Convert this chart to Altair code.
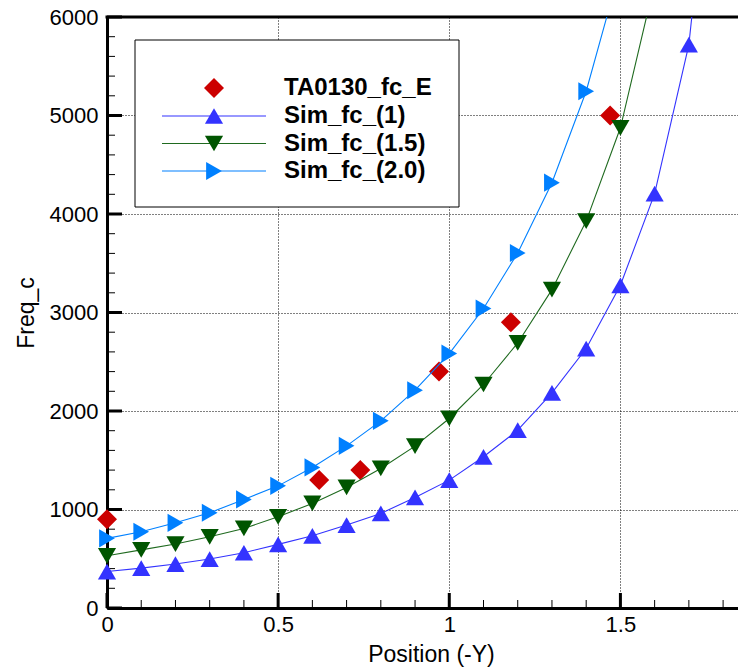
import altair as alt
import pandas as pd

# ---------------- data ----------------
sim_x = [0.0, 0.1, 0.2, 0.3, 0.4, 0.5, 0.6, 0.7, 0.8, 0.9,
         1.0, 1.1, 1.2, 1.3, 1.4, 1.5, 1.6, 1.7, 1.8]
sim_1 = [370, 405, 446, 497, 561, 646, 733, 842, 960, 1123,
         1298, 1535, 1805, 2184, 2634, 3276, 4206, 5720, 9000]
sim_15 = [530, 590, 649, 723, 808, 926, 1062, 1224, 1417, 1643,
          1924, 2269, 2691, 3232, 3928, 4875, 6350]
sim_20 = [707, 774, 865, 967, 1102, 1240, 1427, 1646, 1900, 2211,
          2583, 3040, 3604, 4318, 5246, 6500]
exp_x = [0.0, 0.62, 0.74, 0.97, 1.18, 1.47]
exp_y = [900, 1300, 1400, 2400, 2900, 5000]

series_names = ["TA0130_fc_E", "Sim_fc_(1)", "Sim_fc_(1.5)", "Sim_fc_(2.0)"]
y_major = [0, 1000, 2000, 3000, 4000, 5000, 6000]
y_minor = [v for v in range(0, 6001, 200) if v % 1000 != 0]
x_major = [0.0, 0.5, 1.0, 1.5]
x_minor = [0.1, 0.2, 0.3, 0.4, 0.6, 0.7, 0.8, 0.9, 1.1, 1.2, 1.3, 1.4, 1.6, 1.7, 1.8]

# ---------------- styling ----------------
W, H = 638, 591
FONT = "Liberation Sans"
RED, BLUE, GREEN, LBLUE = "#cc0000", "#3333ff", "#005500", "#0080ff"
GREEN_LINE = "#1f6a1f"

xs = alt.Scale(domain=[0, 1.864], nice=False, zero=False)
ys = alt.Scale(domain=[0, 6000], nice=False, zero=False)

x_axis = alt.Axis(values=x_major, format="~g", grid=True, gridDash=[1, 2],
                  gridColor="black", gridWidth=1, ticks=False, tickSize=0,
                  domainWidth=3, domainColor="black", labelFont=FONT,
                  labelFontSize=22, labelColor="black", labelPadding=6,
                  labelFlush=False, title="Position (-Y)", titleFont=FONT,
                  titleFontSize=23, titleFontWeight="normal", titleColor="black",
                  titleX=324, titleY=53, titleAlign="center",
                  titleBaseline="alphabetic")
y_axis = alt.Axis(values=y_major, format="d", grid=True, gridDash=[1, 2],
                  gridColor="black", gridWidth=1, ticks=False, tickSize=0,
                  domainWidth=3, domainColor="black", labelFont=FONT,
                  labelFontSize=22, labelColor="black", labelPadding=9,
                  labelFlush=False, title="Freq_c", titleFont=FONT,
                  titleFontSize=23, titleFontWeight="normal", titleColor="black",
                  titleAngle=270, titleX=-74, titleY=295.5, titleAlign="center",
                  titleBaseline="alphabetic")

def X(field="x"):
    return alt.X(f"{field}:Q", scale=xs, axis=x_axis, title="Position (-Y)")

def Y(field="y"):
    return alt.Y(f"{field}:Q", scale=ys, axis=y_axis, title="Freq_c")

df_exp = pd.DataFrame({"x": exp_x, "y": exp_y})
df_1 = pd.DataFrame({"x": sim_x[:len(sim_1)], "y": sim_1})
df_15 = pd.DataFrame({"x": sim_x[:len(sim_15)], "y": sim_15})
df_20 = pd.DataFrame({"x": sim_x[:len(sim_20)], "y": sim_20})

layers = []
# data-carrying layer first so axes are defined
layers.append(alt.Chart(df_exp).mark_point(shape="diamond", size=0, opacity=0).encode(x=X(), y=Y()))

# legend box (covers the grid)
layers.append(alt.Chart(pd.DataFrame({"k": [0]})).mark_rect(
    fill="white", stroke="black", strokeWidth=1).encode(
    x=alt.value(28), x2=alt.value(352), y=alt.value(23), y2=alt.value(190)))

# inward ticks and top frame
tick_y_major = alt.Chart(pd.DataFrame({"y": y_major})).mark_rule(color="black", strokeWidth=3).encode(
    y=Y(), x=alt.value(0), x2=alt.value(15))
tick_y_minor = alt.Chart(pd.DataFrame({"y": y_minor})).mark_rule(color="black", strokeWidth=1).encode(
    y=Y(), x=alt.value(0), x2=alt.value(8))
tick_x_major = alt.Chart(pd.DataFrame({"x": x_major})).mark_rule(color="black", strokeWidth=3).encode(
    x=X(), y=alt.value(H), y2=alt.value(H - 15))
tick_x_minor = alt.Chart(pd.DataFrame({"x": x_minor})).mark_rule(color="black", strokeWidth=1).encode(
    x=X(), y=alt.value(H), y2=alt.value(H - 8))
top_border = alt.Chart(pd.DataFrame({"k": [0]})).mark_rule(color="black", strokeWidth=3).encode(
    y=alt.value(0), x=alt.value(-1.5), x2=alt.value(W))
layers += [tick_y_major, tick_y_minor, tick_x_major, tick_x_minor, top_border]

# experimental diamonds
layers.append(alt.Chart(df_exp).mark_point(shape="diamond", size=400, filled=True,
                                           color=RED, opacity=1).encode(x=X(), y=Y()))

def sim_layers(df, color, line_color, shape):
    line = alt.Chart(df).mark_line(color=line_color, strokeWidth=1.1, clip=True).encode(x=X(), y=Y())
    pts = alt.Chart(df).mark_point(shape=shape, size=330, filled=True, color=color,
                                   opacity=1).encode(x=X(), y=Y()).transform_filter("datum.y <= 6000")
    return [line, pts]

layers += sim_layers(df_1, BLUE, BLUE, "triangle-up")
layers += sim_layers(df_15, GREEN, GREEN_LINE, "triangle-down")
layers += sim_layers(df_20, LBLUE, LBLUE, "triangle-right")

# legend entries
leg_y = [71, 99, 126.5, 154]
leg_styles = [(RED, None, "diamond", 400), (BLUE, BLUE, "triangle-up", 330),
              (GREEN, GREEN_LINE, "triangle-down", 330), (LBLUE, LBLUE, "triangle-right", 330)]
for name, yy, (col, lcol, shp, sz) in zip(series_names, leg_y, leg_styles):
    d = pd.DataFrame({"label": [name]})
    if lcol is not None:
        layers.append(alt.Chart(d).mark_rule(color=lcol, strokeWidth=1.1).encode(
            x=alt.value(55), x2=alt.value(159), y=alt.value(yy)))
    layers.append(alt.Chart(d).mark_point(shape=shp, size=sz, filled=True, color=col,
                                          opacity=1).encode(x=alt.value(107), y=alt.value(yy)))
    layers.append(alt.Chart(d).mark_text(align="left", baseline="middle", font=FONT,
                                         fontSize=24, fontWeight="bold", color="black").encode(
        x=alt.value(177), y=alt.value(yy), text="label:N"))

chart = alt.layer(*layers).properties(
    width=W, height=H,
    padding={"left": 99, "top": 9, "right": -7, "bottom": 60},
    autosize=alt.AutoSizeParams(type="none"),
).configure_view(stroke=None).configure(background="white")

chart.save("out.html", embed_options={"renderer": "svg", "actions": False})
